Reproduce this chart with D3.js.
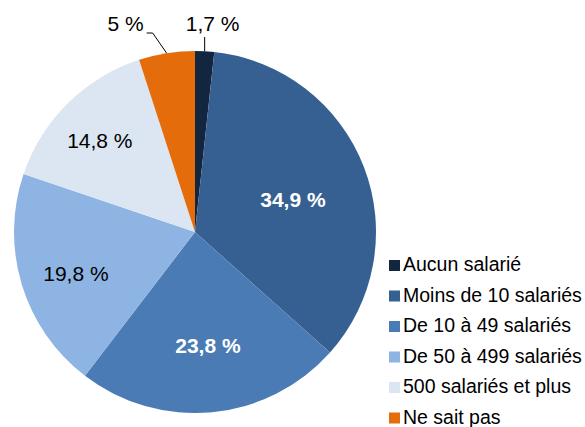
<!DOCTYPE html>
<meta charset="utf-8">
<style>
body { margin: 0; background: #fff; }
svg { display: block; font-family: "Liberation Sans", Arial, sans-serif; }
.leader { fill: none; stroke: #000; stroke-width: 1; }
</style>
<body>
<div id="chart"></div>
<script src="https://cdn.jsdelivr.net/npm/d3@7"></script>
<script>

// data
var categories = ['Aucun salarié', 'Moins de 10 salariés', 'De 10 à 49 salariés',
                  'De 50 à 499 salariés', '500 salariés et plus', 'Ne sait pas'];
var values = [1.7, 34.9, 23.8, 19.8, 14.8, 5];
var labels = ['1,7 %', '34,9 %', '23,8 %', '19,8 %', '14,8 %', '5 %'];
var colors = ['#12263f', '#376092', '#4a7bb5', '#8eb4e3', '#dce6f2', '#e46c0a'];

// layout
var width = 585, height = 427;
var cx = 195, cy = 232, radius = 181;
// inside labels, placed like excel's "best fit": radius + small angle nudge (deg)
var labelRadius = [0, 103, 114, 126, 132, 0];
var labelNudge  = [0, 3, -1.1, -2.2, -1.5, 0];
var whiteLabel = [false, true, true, false, false, false];

var svg = d3.select('#chart').append('svg')
    .attr('width', width)
    .attr('height', height);

var g = svg.append('g')
    .attr('transform', 'translate(' + cx + ',' + cy + ')');

var pie = d3.pie().sort(null).value(function(d){ return d; });
var arcs = pie(values);

var arc = d3.arc().innerRadius(0).outerRadius(radius);

g.selectAll('path.slice')
    .data(arcs)
  .enter().append('path')
    .attr('class', 'slice')
    .attr('d', arc)
    .style('fill', function(d, i){ return colors[i]; });

// labels inside the slices
arcs.forEach(function(d, i){
  if (!labelRadius[i]) return;
  var a = (d.startAngle + d.endAngle) / 2 + labelNudge[i] * Math.PI / 180;
  var r = labelRadius[i];
  g.append('text')
    .attr('x', r * Math.sin(a))
    .attr('y', -r * Math.cos(a))
    .attr('dy', '0.35em')
    .attr('text-anchor', 'middle')
    .style('font-size', '21px')
    .style('font-weight', whiteLabel[i] ? 'bold' : 'normal')
    .style('fill', whiteLabel[i] ? '#fff' : '#000')
    .text(labels[i]);
});

// small slices: label outside with leader line
function edgePoint(d){
  var a = (d.startAngle + d.endAngle) / 2;
  return [radius * Math.sin(a), -radius * Math.cos(a)];
}

var p0 = edgePoint(arcs[0]);
g.append('path').attr('class', 'leader')
  .attr('d', d3.line()([[p0[0], p0[1]], [p0[0], -195]]));
g.append('text')
  .attr('x', p0[0] + 8).attr('y', -201)
  .attr('text-anchor', 'middle')
  .style('font-size', '21px')
  .text(labels[0]);

var p5 = edgePoint(arcs[5]);
g.append('path').attr('class', 'leader')
  .attr('d', d3.line()([[p5[0], p5[1]], [p5[0] - 14, -199], [p5[0] - 20, -199]]));
g.append('text')
  .attr('x', p5[0] - 41).attr('y', -201)
  .attr('text-anchor', 'middle')
  .style('font-size', '21px')
  .text(labels[5]);

// legend
var legend = svg.append('g')
    .attr('transform', 'translate(389,271)');

var rows = legend.selectAll('g.row')
    .data(categories)
  .enter().append('g')
    .attr('class', 'row')
    .attr('transform', function(d, i){ return 'translate(0,' + (i * 30.5) + ')'; });

rows.append('rect')
    .attr('x', 0).attr('y', -11)
    .attr('width', 11).attr('height', 11)
    .style('fill', function(d, i){ return colors[i]; });

rows.append('text')
    .attr('x', 14).attr('y', 0)
    .style('font-size', '19.5px')
    .style('fill', '#000')
    .text(function(d){ return d; });

</script>
